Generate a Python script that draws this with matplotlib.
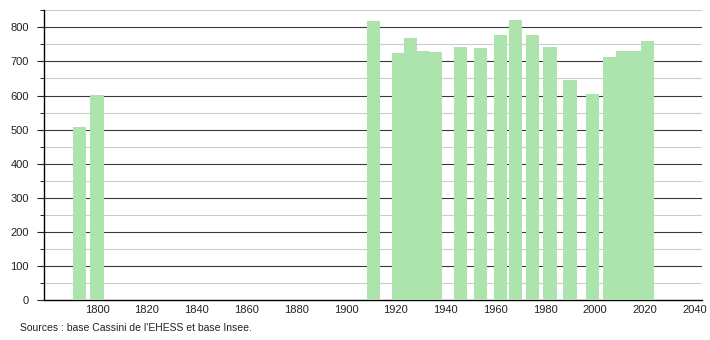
import matplotlib
matplotlib.use('Agg')
import matplotlib.pyplot as plt
import numpy as np

# Données de population
annees = [1793, 1800, 1911, 1921, 1926, 1931, 1936, 1946, 1954, 1962, 1968,
          1975, 1982, 1990, 1999, 2006, 2011, 2016, 2021]
population = [507, 601, 820, 725, 770, 730, 727, 743, 740, 779, 822,
              779, 743, 647, 605, 714, 731, 732, 761]
ticks_x = list(range(1800, 2041, 20))
ticks_y = list(range(0, 801, 100))

plt.rcParams['font.family'] = ['Liberation Sans', 'DejaVu Sans']

fig = plt.figure(figsize=(7.1, 3.4), dpi=100)
ax = fig.add_axes([0.062, 0.1176, 0.927, 0.853])

ax.bar(annees, population, width=5.3, color='#ade3ad', zorder=3)

# Grilles : majeure sombre, mineure claire
for y in ticks_y[1:]:
    ax.axhline(y, color='#3a3a3a', lw=0.8, zorder=1)
for y in np.arange(50, 851, 100):
    ax.axhline(y, color='#cccccc', lw=0.8, zorder=1)

ax.set_xlim(1778.7, 2043.1)
ax.set_ylim(0, 851)
ax.set_xticks(ticks_x)
ax.set_yticks(ticks_y)
ax.set_yticks(np.arange(50, 851, 100), minor=True)
ax.tick_params(axis='x', length=0, labelsize=8, colors='#222222', pad=3.5)
ax.tick_params(axis='y', which='major', length=5, labelsize=8, colors='#222222', pad=6)
ax.tick_params(axis='y', which='minor', length=3)

for s in ['top', 'right']:
    ax.spines[s].set_visible(False)
ax.spines['left'].set_color('black')
ax.spines['bottom'].set_color('black')
ax.spines['left'].set_linewidth(1)
ax.spines['bottom'].set_linewidth(1)

fig.text(20 / 710, 1 - 328 / 340, "Sources : base Cassini de l'EHESS et base Insee.",
         fontsize=7.5, color='#222222', va='center')

plt.savefig('out.png', dpi=100)
